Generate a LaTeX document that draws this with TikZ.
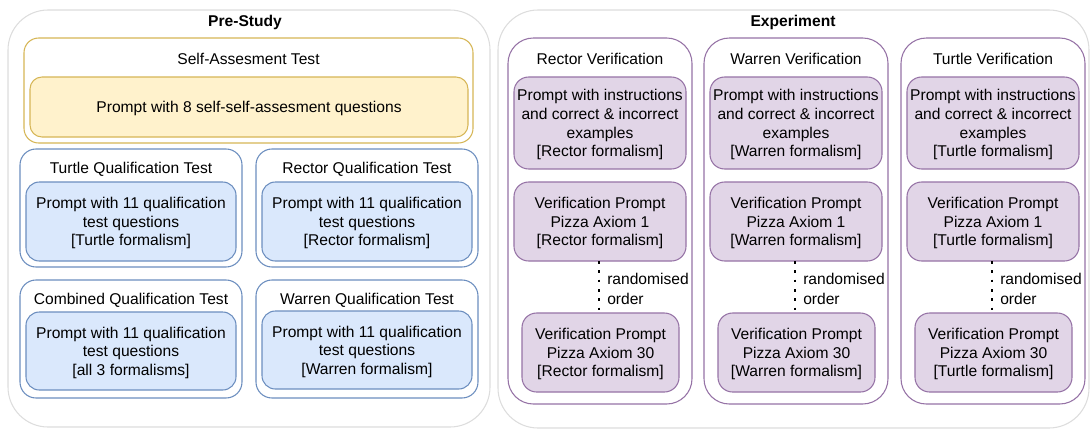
\documentclass[tikz,border=0pt]{standalone}
\usepackage{fontspec}
\setmainfont{Liberation Sans}
\usetikzlibrary{fit}
\definecolor{grayb}{HTML}{DDDDDD}
\definecolor{yelb}{HTML}{D6B656}
\definecolor{yelf}{HTML}{FFF2CC}
\definecolor{blub}{HTML}{6C8EBF}
\definecolor{bluf}{HTML}{DAE8FC}
\definecolor{purb}{HTML}{9673A6}
\definecolor{purf}{HTML}{E1D5E7}
\tikzset{
  base/.style={inner sep=0pt, outer sep=0pt, line width=0.8pt},
  txt/.style={font=\fontsize{11.7pt}{14pt}\selectfont, align=center, inner sep=0pt, yshift=-1.3pt},
  ttl/.style={txt, font=\fontsize{11.7pt}{14pt}\selectfont\bfseries},
  outergray/.style={base, draw=grayb, fill=white, rounded corners=30pt},
  yelout/.style={base, draw=yelb, fill=white, rounded corners=11pt},
  yelin/.style={base, draw=yelb, fill=yelf, rounded corners=9pt},
  bluout/.style={base, draw=blub, fill=white, rounded corners=12pt},
  bluin/.style={base, draw=blub, fill=bluf, rounded corners=10pt},
  purout/.style={base, draw=purb, fill=white, rounded corners=19pt},
  purin/.style={base, draw=purb, fill=purf, rounded corners=11pt},
  dotline/.style={line width=2.2pt, dash pattern=on 2pt off 5pt, draw=black},
}
\begin{document}
\begin{tikzpicture}[x=0.75pt, y=-0.75pt]
\useasboundingbox (0,0) rectangle (1092,429);
% Pre-study
\node[outergray, fit={(8,10) (490,427)}] (pre) {};
\node[ttl] (pret) at (245,21) {Pre-Study};
\node[yelout, fit={(24,38) (473,143)}] (sa) {};
\node[txt] (sat) at (248.5,57) {Self-Assesment Test};
\node[yelin, fit={(30,77) (468,137)}] (sain) {};
\node[txt] (saint) at (sain.center) {Prompt with 8 self-self-assesment questions};
% qualification tests
\node[bluout, fit={(20,149) (242,267)}] (tq) {};
\node[txt] (tqt) at (131,168) {Turtle Qualification Test};
\node[bluin, fit={(26,182) (236,261)}] (tqi) {};
\node[txt] (tqit) at (tqi.center) {Prompt with 11 qualification\\test questions\\{[}Turtle formalism{]}};
\node[bluout, fit={(256,149) (478,267)}] (rq) {};
\node[txt] (rqt) at (367,168) {Rector Qualification Test};
\node[bluin, fit={(262,182) (472,261)}] (rqi) {};
\node[txt] (rqit) at (rqi.center) {Prompt with 11 qualification\\test questions\\{[}Rector formalism{]}};
\node[bluout, fit={(20,280) (242,398)}] (cq) {};
\node[txt] (cqt) at (131,299) {Combined Qualification Test};
\node[bluin, fit={(26,312) (236,390)}] (cqi) {};
\node[txt] (cqit) at (cqi.center) {Prompt with 11 qualification\\test questions\\{[}all 3 formalisms{]}};
\node[bluout, fit={(256,280) (478,398)}] (wq) {};
\node[txt] (wqt) at (367,299) {Warren Qualification Test};
\node[bluin, fit={(262,311) (472,389)}] (wqi) {};
\node[txt] (wqit) at (wqi.center) {Prompt with 11 qualification\\test questions\\{[}Warren formalism{]}};
% Experiment
\node[outergray, fit={(498,10) (1089,428)}] (exp) {};
\node[ttl] (expt) at (793,21) {Experiment};
\foreach \L/\n/\f in {508/r/Rector, 704/w/Warren, 901/t/Turtle}{
  \node[purout, fit={(\L,38) ({\L+184},404)}] (\n col) {};
  \node[txt] (\n colt) at ({\L+92},57) {\f{} Verification};
  \node[purin, fit={({\L+6},77) ({\L+178},169)}] (\n v1) {};
  \node[txt] (\n v1t) at (\n v1.center) {Prompt with instructions\\and correct \& incorrect\\examples\\{[}\f{} formalism{]}};
  \node[purin, fit={({\L+6},182) ({\L+178},261)}] (\n v2) {};
  \node[txt] (\n v2t) at (\n v2.center) {Verification Prompt\\Pizza Axiom 1\\{[}\f{} formalism{]}};
  \node[purin, fit={({\L+14},313) ({\L+171},392)}] (\n v3) {};
  \node[txt] (\n v3t) at (\n v3.center) {Verification Prompt\\Pizza Axiom 30\\{[}\f{} formalism{]}};
  \draw[dotline] ([xshift=-0.75pt]\n v2.south) -- ([xshift=-0.75pt]\n v2.south |- \n v3.north);
  \node[txt, anchor=west] (\n ra) at ({\L+99},277) {randomised};
  \node[txt, anchor=west] (\n or) at ({\L+99},297) {order};
}
\end{tikzpicture}
\end{document}
